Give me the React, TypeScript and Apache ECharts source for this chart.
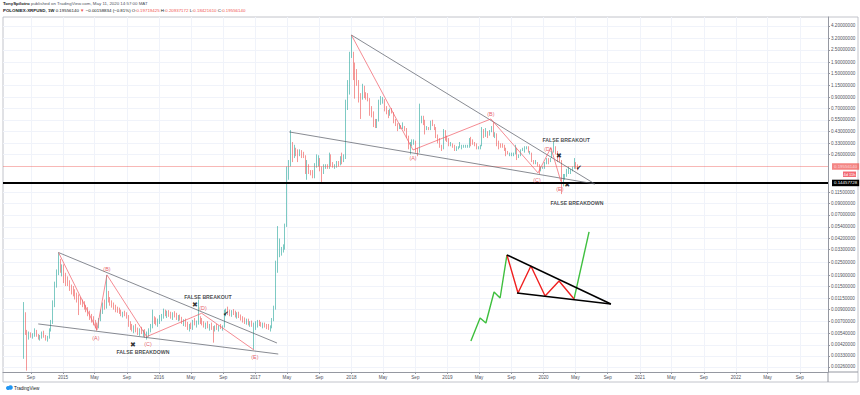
import React, { useEffect, useRef } from 'react';
import * as echarts from 'echarts';

// ---------- data ----------
const FIRST_WEEK = '2014-08-04';
// weekly candles: [open, high, low, close]
const ohlc2014 = [
  [.0055,.0106,.0031,.0082],[.0082,.0085,.0052,.0054],[.0054,.0058,.0024,.0050],[.0050,.0056,.0047,.0052],
  [.0052,.0055,.0049,.0050],[.0050,.0054,.0048,.0053],[.0053,.0060,.0050,.0056],[.0056,.0058,.0050,.0051],
  [.0051,.0053,.0047,.0049],[.0049,.0052,.0046,.0050],[.0050,.0056,.0048,.0054],[.0054,.0057,.0049,.0050],
  [.0050,.0052,.0046,.0048],[.0048,.0051,.0045,.0049],[.0049,.0060,.0048,.0058],[.0058,.0072,.0056,.0068],
  [.0068,.0110,.0066,.0100],[.0100,.0165,.0095,.0155],[.0155,.0215,.0145,.0200],[.0200,.0310,.0190,.0240],
  [.0240,.0270,.0200,.0215],[.0215,.0240,.0185,.0225],
];
const ohlc2015 = [
  [.0225,.0240,.0160,.0175],[.0175,.0200,.0150,.0165],[.0165,.0185,.0150,.0160],[.0160,.0170,.0135,.0140],
  [.0140,.0155,.0125,.0135],[.0135,.0150,.0120,.0128],[.0128,.0140,.0112,.0120],[.0120,.0130,.0105,.0112],
  [.0112,.0125,.0080,.0110],[.0110,.0118,.0100,.0104],[.0104,.0112,.0095,.0100],[.0100,.0108,.0090,.0094],
  [.0094,.0100,.0085,.0090],[.0090,.0095,.0078,.0082],[.0082,.0088,.0072,.0076],[.0076,.0082,.0068,.0072],
  [.0072,.0078,.0064,.0068],[.0068,.0072,.0060,.0064],[.0064,.0068,.0057,.0061],[.0061,.0075,.0060,.0072],
  [.0072,.0090,.0070,.0086],[.0086,.0105,.0082,.0098],[.0098,.0112,.0090,.0095],[.0095,.0190,.0092,.0120],
  [.0120,.0135,.0105,.0110],[.0110,.0118,.0098,.0102],[.0102,.0110,.0094,.0098],[.0098,.0105,.0090,.0093],
  [.0093,.0100,.0085,.0090],[.0090,.0096,.0084,.0088],[.0088,.0094,.0082,.0085],[.0085,.0090,.0078,.0080],
  [.0080,.0086,.0076,.0083],[.0083,.0088,.0078,.0080],[.0080,.0085,.0074,.0076],[.0076,.0080,.0062,.0066],
  [.0066,.0070,.0058,.0061],[.0061,.0066,.0056,.0059],[.0059,.0064,.0054,.0062],[.0062,.0066,.0055,.0057],
  [.0057,.0061,.0052,.0055],[.0055,.0060,.0051,.0058],[.0058,.0062,.0053,.0054],[.0054,.0058,.0050,.0056],
  [.0056,.0059,.0049,.0051],[.0051,.0056,.0047,.0053],[.0053,.0060,.0050,.0058],[.0058,.0066,.0055,.0063],
  [.0063,.0090,.0060,.0072],[.0072,.0078,.0066,.0070],[.0070,.0076,.0064,.0068],[.0068,.0074,.0062,.0071],
];
const ohlc2016 = [
  [.0071,.0080,.0066,.0075],[.0075,.0082,.0070,.0078],[.0078,.0092,.0074,.0084],[.0084,.0090,.0078,.0080],
  [.0080,.0088,.0075,.0083],[.0083,.0089,.0077,.0080],[.0080,.0086,.0074,.0077],[.0077,.0085,.0072,.0082],
  [.0082,.0087,.0076,.0079],[.0079,.0084,.0072,.0074],[.0074,.0080,.0070,.0077],[.0077,.0081,.0071,.0073],
  [.0073,.0077,.0066,.0068],[.0068,.0073,.0063,.0070],[.0070,.0074,.0062,.0064],[.0064,.0069,.0058,.0060],
  [.0060,.0066,.0056,.0063],[.0063,.0068,.0059,.0061],[.0061,.0072,.0058,.0069],[.0069,.0075,.0064,.0066],
  [.0066,.0071,.0061,.0068],[.0068,.0112,.0065,.0072],[.0072,.0078,.0066,.0070],[.0070,.0075,.0064,.0066],
  [.0066,.0070,.0061,.0064],[.0064,.0068,.0059,.0066],[.0066,.0070,.0060,.0062],[.0062,.0066,.0057,.0064],
  [.0064,.0068,.0058,.0060],[.0060,.0063,.0044,.0059],[.0059,.0064,.0056,.0062],[.0062,.0066,.0058,.0060],
  [.0060,.0064,.0056,.0063],[.0063,.0066,.0059,.0061],[.0061,.0064,.0057,.0062],[.0062,.0090,.0061,.0084],
  [.0084,.0092,.0078,.0088],[.0088,.0096,.0080,.0085],[.0085,.0090,.0078,.0081],[.0081,.0089,.0077,.0086],
  [.0086,.0091,.0080,.0083],[.0083,.0088,.0076,.0079],[.0079,.0085,.0074,.0082],[.0082,.0086,.0075,.0077],
  [.0077,.0081,.0071,.0074],[.0074,.0078,.0068,.0072],[.0072,.0076,.0066,.0068],[.0068,.0074,.0065,.0071],
  [.0071,.0074,.0064,.0066],[.0066,.0070,.0062,.0068],[.0068,.0071,.0062,.0064],[.0064,.0068,.0038,.0065],
];
const ohlc2017 = [
  [.0065,.0070,.0058,.0066],[.0066,.0072,.0061,.0069],[.0069,.0072,.0063,.0066],[.0066,.0069,.0062,.0064],
  [.0064,.0068,.0060,.0066],[.0066,.0068,.0061,.0063],[.0063,.0066,.0059,.0062],[.0062,.0066,.0058,.0060],
  [.0060,.0064,.0056,.0062],[.0062,.0075,.0060,.0072],[.0072,.0098,.0070,.0094],[.0094,.026,.0090,.022],
  [.022,.055,.020,.032],[.032,.042,.028,.032],[.032,.035,.029,.033],[.033,.037,.031,.034],
  [.034,.058,.033,.055],[.055,.20,.054,.17],[.17,.23,.15,.21],[.21,.44,.20,.32],
  [.32,.34,.22,.25],[.25,.32,.24,.29],[.29,.30,.25,.27],[.27,.29,.22,.26],
  [.26,.29,.25,.27],[.27,.285,.24,.26],[.26,.275,.24,.25],[.25,.255,.17,.18],
  [.18,.23,.15,.21],[.21,.21,.17,.175],[.175,.185,.165,.17],[.17,.185,.155,.16],
  [.16,.215,.155,.20],[.20,.26,.195,.22],[.22,.255,.20,.23],[.23,.24,.18,.19],
  [.19,.20,.14,.185],[.185,.21,.17,.20],[.20,.21,.19,.205],[.205,.21,.19,.195],
  [.195,.27,.19,.25],[.25,.26,.20,.21],[.21,.22,.195,.20],[.20,.21,.19,.205],
  [.205,.225,.195,.215],[.215,.225,.20,.21],[.21,.25,.205,.24],[.24,.27,.21,.23],
  [.23,.26,.22,.24],[.24,.85,.235,.75],[.75,1.30,.68,1.05],[1.05,2.40,.95,2.25],
];
const ohlc2018 = [
  [2.25,3.45,2.10,2.30],[2.30,2.40,1.30,1.60],[1.60,1.90,.87,1.55],[1.55,1.65,1.15,1.25],
  [1.25,1.30,.80,.95],[.95,.98,.56,.88],[.88,1.20,.85,1.10],[1.10,1.15,.88,.92],
  [.92,1.00,.85,.90],[.90,.98,.82,.86],[.86,.88,.60,.70],[.70,.74,.58,.65],
  [.65,.66,.47,.50],[.50,.56,.46,.48],[.48,.56,.46,.55],[.55,.85,.53,.80],
  [.80,.92,.76,.82],[.82,.90,.78,.84],[.84,.86,.66,.70],[.70,.74,.62,.66],
  [.66,.68,.57,.61],[.61,.70,.60,.68],[.68,.71,.63,.64],[.64,.65,.51,.53],
  [.53,.56,.48,.50],[.50,.51,.43,.46],[.46,.51,.45,.48],[.48,.49,.45,.46],
  [.46,.52,.45,.47],[.47,.48,.43,.45],[.45,.46,.37,.38],[.38,.39,.29,.30],
  [.30,.34,.26,.33],[.33,.36,.31,.33],[.33,.36,.32,.34],[.34,.35,.27,.29],
  [.29,.30,.25,.28],[.28,.78,.27,.56],[.56,.60,.51,.58],[.58,.60,.49,.53],
  [.53,.55,.40,.45],[.45,.48,.44,.46],[.46,.47,.44,.45],[.45,.54,.44,.52],
  [.52,.55,.48,.49],[.49,.50,.44,.46],[.46,.47,.37,.40],[.40,.40,.33,.36],
  [.36,.37,.30,.31],[.31,.32,.28,.30],[.30,.45,.29,.41],[.41,.44,.35,.37],
  [.37,.39,.34,.36],
];
const ohlc2019 = [
  [.36,.37,.31,.32],[.32,.34,.31,.32],[.32,.33,.30,.31],[.31,.32,.28,.30],
  [.30,.31,.28,.30],[.30,.31,.29,.30],[.30,.34,.30,.31],[.31,.32,.29,.31],
  [.31,.32,.30,.31],[.31,.32,.30,.31],[.31,.32,.30,.31],[.31,.37,.30,.36],
  [.36,.38,.31,.35],[.35,.36,.32,.33],[.33,.34,.31,.32],[.32,.33,.29,.30],
  [.30,.31,.29,.30],[.30,.32,.29,.31],[.31,.47,.31,.42],[.42,.45,.37,.40],
  [.40,.46,.38,.42],[.42,.43,.37,.40],[.40,.44,.39,.43],[.43,.48,.42,.46],
  [.46,.52,.38,.40],[.40,.42,.37,.40],[.40,.41,.31,.33],[.33,.35,.29,.32],
  [.32,.33,.30,.31],[.31,.33,.30,.30],[.30,.32,.28,.29],[.29,.30,.25,.27],
  [.27,.28,.26,.26],[.26,.27,.25,.26],[.26,.27,.25,.26],[.26,.27,.25,.26],
  [.26,.32,.26,.29],[.29,.30,.23,.24],[.24,.26,.24,.25],[.25,.29,.25,.28],
  [.28,.30,.28,.29],[.29,.31,.27,.29],[.29,.31,.29,.30],[.30,.31,.27,.27],
  [.27,.28,.26,.27],[.27,.27,.22,.23],[.23,.23,.21,.22],[.22,.23,.21,.22],
  [.22,.22,.20,.20],[.20,.21,.17,.19],[.19,.20,.18,.19],[.19,.20,.19,.19],
];
const ohlc2020 = [
  [.19,.22,.19,.21],[.21,.24,.21,.23],[.23,.24,.21,.22],[.22,.24,.22,.24],
  [.24,.28,.24,.27],[.27,.34,.27,.30],[.30,.31,.26,.27],[.27,.28,.22,.23],
  [.23,.25,.22,.22],[.22,.23,.11,.15],[.15,.17,.13,.15],[.15,.17,.15,.16],
  [.16,.19,.16,.18],[.18,.20,.17,.18],[.18,.19,.17,.19],[.19,.20,.18,.19],
  [.19,.24,.19,.21],[.21,.22,.19,.19714974],[.19719425,.20937172,.18421610,.19556140],
];

const LAST_PRICE = 0.1955614;
const SUPPORT_LEVEL = 0.14457728;

const priceTicks = [4.2, 3.2, 2.5, 1.9, 1.5, 1.15, 0.9, 0.7, 0.55, 0.43, 0.33, 0.26, 0.115, 0.09, 0.07, 0.054, 0.042, 0.033, 0.025, 0.019, 0.015, 0.0115, 0.009, 0.007, 0.0054, 0.0042, 0.0033, 0.0026];
const priceTickLabels = ['4.20000000','3.20000000','2.50000000','1.90000000','1.50000000','1.15000000','0.90000000','0.70000000','0.55000000','0.43000000','0.33000000','0.26000000','0.11500000','0.09000000','0.07000000','0.05400000','0.04200000','0.03300000','0.02500000','0.01900000','0.01500000','0.01150000','0.00900000','0.00700000','0.00540000','0.00420000','0.00330000','0.00260000'];

const timeTicks = ['2014-09-01','2015-01-01','2015-05-01','2015-09-01','2016-01-01','2016-05-01','2016-09-01','2017-01-01','2017-05-01','2017-09-01','2018-01-01','2018-05-01','2018-09-01','2019-01-01','2019-05-01','2019-09-01','2020-01-01','2020-05-01','2020-09-01','2021-01-01','2021-05-01','2021-09-01','2022-01-01','2022-05-01','2022-09-01'];
const timeTickLabels = ['Sep','2015','May','Sep','2016','May','Sep','2017','May','Sep','2018','May','Sep','2019','May','Sep','2020','May','Sep','2021','May','Sep','2022','May','Sep'];

// drawings (date, price)
const wedge2018Upper = [['2018-01-01', 3.45], ['2020-07-14', 0.137]];
const wedge2018Lower = [['2017-05-10', 0.4226], ['2020-07-14', 0.137]];
const wedge2014Upper = [['2014-12-15', 0.031], ['2017-03-24', 0.00437]];
const wedge2014Lower = [['2014-09-29', 0.0066], ['2017-03-29', 0.00344]];
const waves2014 = [['2014-12-15', 0.031], ['2015-05-10', 0.0058], ['2015-06-17', 0.0191], ['2015-11-15', 0.00501], ['2016-06-11', 0.00832], ['2016-12-27', 0.00375]];
const waves2018 = [['2018-01-01', 3.45], ['2018-08-23', 0.286], ['2019-06-15', 0.56], ['2019-12-11', 0.174], ['2020-01-29', 0.30], ['2020-03-07', 0.1446]];
const sketchGreenUp = [['2019-03-31', 0.00457], ['2019-05-05', 0.00751], ['2019-05-27', 0.00674], ['2019-06-27', 0.01319], ['2019-07-20', 0.01158], ['2019-08-15', 0.02941]];
const sketchGreenBreak = [['2020-04-26', 0.01134], ['2020-06-22', 0.04842]];
const sketchWedgeUpper = [['2019-08-15', 0.02941], ['2020-09-13', 0.01018]];
const sketchWedgeLower = [['2019-09-22', 0.01292], ['2020-09-13', 0.01018]];
const sketchWaves = [['2019-08-15', 0.02941], ['2019-09-26', 0.01292], ['2019-11-14', 0.02318], ['2020-01-07', 0.01211], ['2020-02-29', 0.01675], ['2020-04-26', 0.01134]];

const waveLabels = [
  { name: '(A)', value: ['2015-05-06', 0.00487] },
  { name: '(B)', value: ['2015-06-17', 0.0217] },
  { name: '(C)', value: ['2015-11-20', 0.00428] },
  { name: '(D)', value: ['2016-06-16', 0.00933] },
  { name: '(E)', value: ['2016-12-30', 0.00323] },
  { name: '(A)', value: ['2018-08-23', 0.2405] },
  { name: '(B)', value: ['2019-06-15', 0.6245] },
  { name: '(C)', value: ['2019-12-07', 0.1494] },
  { name: '(D)', value: ['2020-01-18', 0.2923] },
  { name: '(E)', value: ['2020-03-03', 0.123] },
];
const noteLabels = [
  { name: 'FALSE BREAKOUT', value: ['2016-07-05', 0.01184] },
  { name: 'FALSE BREAKDOWN', value: ['2015-11-01', 0.0036] },
  { name: 'FALSE BREAKOUT', value: ['2020-03-27', 0.3553] },
  { name: 'FALSE BREAKDOWN', value: ['2020-05-07', 0.0908] },
];
const crossMarks = [['2015-09-24', 0.00418], ['2016-05-16', 0.00996], ['2020-02-29', 0.2514], ['2020-03-31', 0.134]];
const checkMarks = [['2016-09-11', 0.00819], ['2020-05-15', 0.1939]];

// ---------- helpers ----------
const WEEK = 7 * 24 * 3600 * 1000;
const ts = (s: string) => {
  const [y, m, d] = s.split('-').map(Number);
  return Date.UTC(y, m - 1, d);
};
const pts = (arr: any[]) => arr.map((p) => [ts(p[0]), p[1]]);
const FONT = "'Liberation Sans', Arial, sans-serif";

export default function App() {
  const ref = useRef<HTMLDivElement>(null);
  useEffect(() => {
    if (!ref.current) return;
    const chart = echarts.init(ref.current, null, { renderer: 'svg' });
    const all = [...ohlc2014, ...ohlc2015, ...ohlc2016, ...ohlc2017, ...ohlc2018, ...ohlc2019, ...ohlc2020];
    const t0 = ts(FIRST_WEEK);
    const candles = all.map((r, i) => [t0 + i * WEEK, r[0], r[3], r[2], r[1]]);
    const tickTs = timeTicks.map(ts);
    const lineSeries = (data: any[], color: string, width: number) => ({
      type: 'line', data: pts(data), symbol: 'none', showSymbol: false, silent: true, z: 5,
      lineStyle: { color, width },
    });
    const textSeries = (data: any[], fontSize: number, color: string, weight: string) => ({
      type: 'scatter', symbolSize: 1, silent: true, z: 6,
      itemStyle: { color: 'rgba(0,0,0,0)' },
      data: data.map((d: any) => ({ name: d.name, value: [ts(d.value[0]), d.value[1]] })),
      label: { show: true, position: 'inside', formatter: (p: any) => p.name, fontSize, color, fontWeight: weight, fontFamily: FONT },
    });
    const markSeries = (data: any[], glyph: string, fontSize: number) => ({
      type: 'scatter', symbolSize: 1, silent: true, z: 6,
      itemStyle: { color: 'rgba(0,0,0,0)' },
      data: data.map((d) => [ts(d[0]), d[1]]),
      label: { show: true, position: 'inside', formatter: glyph, fontSize, color: '#000', fontWeight: 'bold', fontFamily: "'DejaVu Sans', sans-serif" },
    });

    chart.setOption({
      animation: false,
      backgroundColor: '#ffffff',
      grid: { left: 3, right: 32, top: 17, bottom: 23, show: false },
      xAxis: {
        type: 'value',
        min: ts('2014-05-18'),
        max: ts('2022-12-17'),
        axisLine: { show: true, lineStyle: { color: '#9598a1', width: 1 } },
        axisTick: { show: true, customValues: tickTs, length: 2, lineStyle: { color: '#9598a1' } },
        axisLabel: {
          customValues: tickTs,
          showMinLabel: true, showMaxLabel: true,
          formatter: (v: number) => { const i = tickTs.indexOf(v); return i >= 0 ? timeTickLabels[i] : ''; },
          fontSize: 4.6, color: '#50535e', margin: 3, fontFamily: FONT,
        },
        splitLine: { show: true, lineStyle: { color: '#f0f3fa', width: 1 } },
      },
      yAxis: {
        type: 'log',
        logBase: 10,
        position: 'right',
        min: 0.00233,
        max: 5.1,
        axisLine: { show: true, lineStyle: { color: '#9598a1', width: 1 } },
        axisTick: { show: true, customValues: priceTicks, length: 2, lineStyle: { color: '#9598a1' } },
        axisLabel: {
          customValues: priceTicks,
          showMinLabel: true, showMaxLabel: true,
          formatter: (v: number) => {
            let best = 0; let bd = Infinity;
            priceTicks.forEach((p, i) => { const d = Math.abs(Math.log(p) - Math.log(v)); if (d < bd) { bd = d; best = i; } });
            return priceTickLabels[best];
          },
          fontSize: 4.6, color: '#50535e', margin: 3, fontFamily: FONT,
        },
        splitLine: { show: true, lineStyle: { color: '#f0f3fa', width: 1 } },
      },
      series: [
        {
          type: 'candlestick',
          data: candles,
          encode: { x: 0, y: [1, 2, 3, 4] },
          barWidth: 1.3,
          z: 2,
          itemStyle: { color: '#26a69a', color0: '#ef5350', borderColor: '#26a69a', borderColor0: '#ef5350', borderWidth: 0.6 },
          markLine: {
            silent: true,
            symbol: ['none', 'none'],
            data: [
              {
                yAxis: LAST_PRICE,
                lineStyle: { color: '#ef5350', width: 0.6, type: 'solid', opacity: 0.7 },
                label: { show: true, position: 'end', distance: 4, formatter: '0.19556140', color: '#fff', backgroundColor: '#ef5350', padding: [1.5, 2, 1, 2], fontSize: 4.4, fontFamily: FONT },
              },
              {
                yAxis: SUPPORT_LEVEL,
                lineStyle: { color: '#000', width: 2, type: 'solid' },
                label: { show: true, position: 'end', distance: 4, formatter: '0.14457728', color: '#fff', backgroundColor: '#000', padding: [1.5, 2, 1, 2], fontSize: 4.4, fontFamily: FONT },
              },
            ],
          },
        },
        lineSeries(wedge2018Upper, '#555963', 0.7),
        lineSeries(wedge2018Lower, '#555963', 0.7),
        lineSeries(wedge2014Upper, '#555963', 0.7),
        lineSeries(wedge2014Lower, '#555963', 0.7),
        lineSeries(waves2014, '#f05a64', 0.7),
        lineSeries(waves2018, '#f05a64', 0.7),
        lineSeries(sketchGreenUp, '#3fbf3f', 1.4),
        lineSeries(sketchGreenBreak, '#3fbf3f', 1.4),
        lineSeries(sketchWaves, '#f02020', 1.4),
        lineSeries(sketchWedgeUpper, '#000000', 1.6),
        lineSeries(sketchWedgeLower, '#000000', 1.6),
        textSeries(waveLabels, 5.4, '#e0303c', 'normal'),
        textSeries(noteLabels, 5.2, '#131722', 'bold'),
        markSeries(crossMarks, '✖', 7),
        markSeries(checkMarks, '✔', 7),
      ],
      graphic: [
        { type: 'rect', silent: true, shape: { x: 3, y: 17, width: 855, height: 365 }, style: { fill: 'none', stroke: '#b2b5be', lineWidth: 0.8 }, z: 0 },
        { type: 'line', silent: true, shape: { x1: 828, y1: 372, x2: 828, y2: 382 }, style: { stroke: '#9598a1', lineWidth: 1 } },
        { type: 'line', silent: true, shape: { x1: 828, y1: 372, x2: 858, y2: 372 }, style: { stroke: '#9598a1', lineWidth: 1 } },
        {
          type: 'text', left: 3, top: 1.5, silent: true,
          style: {
            text: '{b|TonySpilotro} published on TradingView.com, May 11, 2020 14:57:00 MAT',
            fill: '#50535e', fontSize: 4.4, fontFamily: FONT,
            rich: { b: { fontWeight: 'bold', fill: '#131722', fontSize: 4.4, fontFamily: FONT } },
          },
        },
        {
          type: 'text', left: 3, top: 8, silent: true,
          style: {
            text: '{b|POLONIEX:XRPUSD, 1W} 0.19556140 {r|▼} −0.00158834 (−0.81%) O:{r|0.19719425} H:{r|0.20937172} L:{r|0.18421610} C:{r|0.19556140}',
            fill: '#131722', fontSize: 4.4, fontFamily: FONT,
            rich: {
              b: { fontWeight: 'bold', fill: '#131722', fontSize: 4.4, fontFamily: FONT },
              r: { fill: '#ef5350', fontSize: 4.4, fontFamily: FONT },
            },
          },
        },
        { type: 'rect', silent: true, shape: { x: 843, y: 171.5, width: 13, height: 5.5 }, style: { fill: '#f26b75' } },
        { type: 'text', silent: true, x: 849.5, y: 174.4, style: { text: '4d 11h', fill: '#fff', fontSize: 4, fontFamily: FONT, align: 'center', verticalAlign: 'middle' } },
        { type: 'circle', silent: true, shape: { cx: 8, cy: 388, r: 2 }, style: { fill: '#2196f3' } },
        { type: 'circle', silent: true, shape: { cx: 10.5, cy: 387.5, r: 2.3 }, style: { fill: '#2196f3' } },
        { type: 'text', silent: true, x: 14, y: 388, style: { text: 'TradingView', fill: '#131722', fontSize: 4.6, fontFamily: FONT, verticalAlign: 'middle' } },
      ],
    });
    return () => chart.dispose();
  }, []);
  return <div ref={ref} style={{ position: 'fixed', left: 0, top: 0, width: 860, height: 395 }} />;
}
